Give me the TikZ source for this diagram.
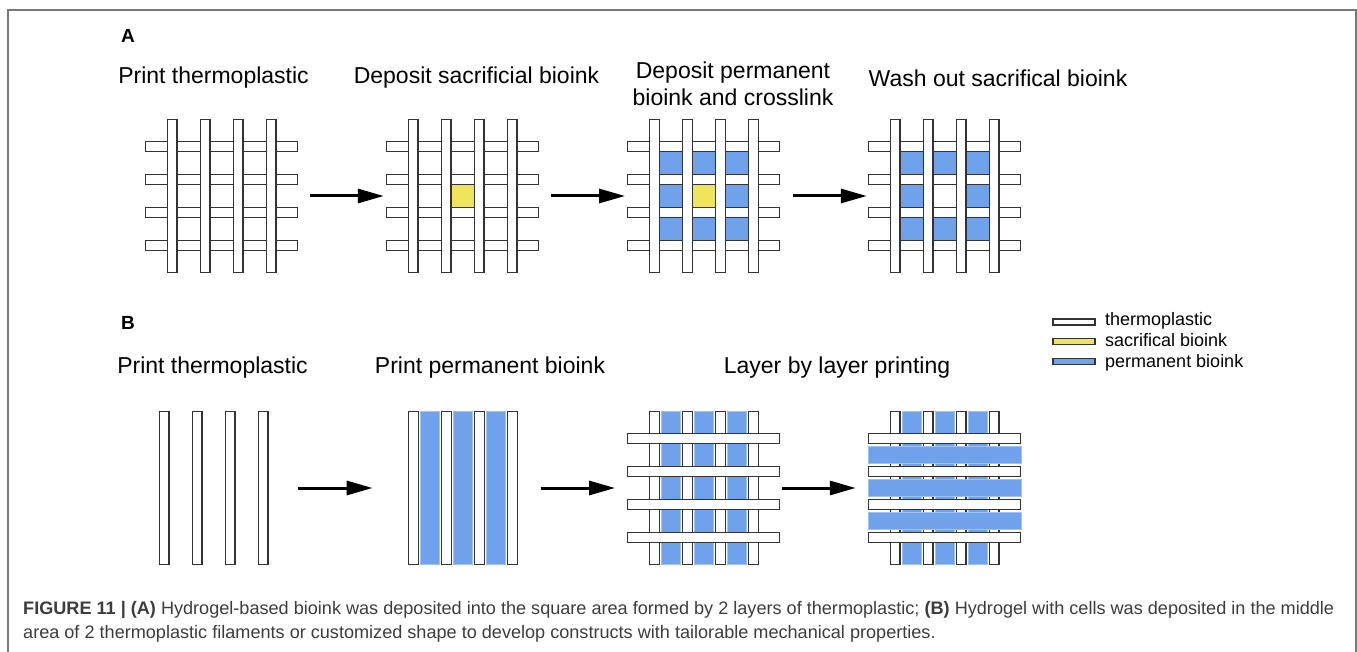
\documentclass[tikz,border=0pt]{standalone}
\usepackage{fontspec}
\setmainfont{Liberation Sans}
\newfontfamily\capfont{Liberation Sans}
\usetikzlibrary{arrows.meta}
\definecolor{permblue}{RGB}{112,162,236}
\definecolor{permedge}{RGB}{160,195,245}
\definecolor{sacyellow}{RGB}{240,228,92}
\definecolor{rimgray}{RGB}{51,51,51}
\definecolor{framegray}{RGB}{120,120,120}
\definecolor{capgray}{RGB}{60,60,60}
\tikzset{
	thermo/.style    = {draw=rimgray, fill=white, line width=1.3pt},
	permstrip/.style = {fill=permblue, draw=permedge, line width=0.8pt},
	gridbox/.style   = {minimum width=153pt, minimum height=153pt, inner sep=0pt},
	headline/.style  = {font=\fontsize{23}{27}\selectfont, align=center},
	panel/.style     = {font=\fontsize{19}{22}\selectfont\bfseries},
	legend/.style    = {font=\fontsize{18}{21}\selectfont, anchor=base west, inner sep=0pt},
	swatch/.style    = {draw=rimgray, line width=1.3pt, minimum width=42pt,
		minimum height=6pt, inner sep=0pt},
	caption/.style   = {font=\capfont\fontsize{18.1}{22}\selectfont, text=capgray,
		anchor=base west, inner sep=0pt},
	arr/.style       = {line width=3pt, -{Triangle[length=26pt,width=14pt]}}
}
% four filaments centred at (#1,#2)
\newcommand{\thermoV}[2]{\foreach \dx in {-49.5,-16.5,16.5,49.5}
	{\draw[thermo] (#1+\dx-4.85,#2-76.5) rectangle (#1+\dx+4.85,#2+76.5);}}
\newcommand{\thermoH}[2]{\foreach \dy in {-49.5,-16.5,16.5,49.5}
	{\draw[thermo] (#1-76,#2+\dy-4.85) rectangle (#1+76,#2+\dy+4.85);}}
% one pore between the filaments
\newcommand{\pore}[3]{\fill[#1] (#2-11.65,#3-11.65) rectangle (#2+11.65,#3+11.65);}
% bioink strips in the gaps
\newcommand{\stripV}[2]{\foreach \gx in {-33,0,33}
	{\draw[permstrip] (#1+\gx-9.5,#2-76.5) rectangle (#1+\gx+9.5,#2+76.5);}}
\newcommand{\stripH}[2]{\foreach \gy in {-33,0,33}
	{\draw[permstrip] (#1-76.5,#2+\gy-8.8) rectangle (#1+76.5,#2+\gy+8.8);}}

\begin{document}
\begin{tikzpicture}[x=1pt, y=-1pt]
	\useasboundingbox (0,0) rectangle (1357,652);
	\draw[framegray, line width=1.5pt] (8,652) -- (8,10) -- (1356,10) -- (1356,652);

	% panel A
	\draw
	node at (128,35.5) [panel] (pA) {A}
	node at (213.5,78) [headline] (tA1) {Print thermoplastic}
	node at (476.5,78) [headline] (tA2) {Deposit sacrificial bioink}
	node at (733,83.5) [headline] (tA3) {Deposit permanent\\bioink and crosslink}
	node at (998,78) [headline] (tA4) {Wash out sacrifical bioink}
	node at (221.5,196) [gridbox] (a1) {}
	node at (462.5,196) [gridbox] (a2) {}
	node at (703.8,196) [gridbox] (a3) {}
	node at (944.5,196) [gridbox] (a4) {};

	\pore{sacyellow}{462.5}{196}
	\foreach \gx in {-33,0,33} {\foreach \gy in {-33,0,33}
		{\pore{permblue}{703.8+\gx}{196+\gy}}}
	\pore{sacyellow}{703.8}{196}
	\foreach \gx/\gy in {-33/-33,0/-33,33/-33,-33/0,33/0,-33/33,0/33,33/33}
		{\pore{permblue}{944.5+\gx}{196+\gy}}
	\foreach \cx in {221.5,462.5,703.8,944.5} {
		\thermoH{\cx}{196}
		\thermoV{\cx}{196}
	}

	\draw[arr, shorten <=12pt, shorten >=2pt] (a1) -- (a2);
	\draw[arr, shorten <=12pt, shorten >=2pt] (a2) -- (a3);
	\draw[arr, shorten <=12pt, shorten >=1pt] (a3) -- (a4);

	% panel B
	\draw
	node at (128,323) [panel] (pB) {B}
	node at (212.5,368) [headline] (tB1) {Print thermoplastic}
	node at (490,368) [headline] (tB2) {Print permanent bioink}
	node at (837,368) [headline] (tB3) {Layer by layer printing}
	node at (213.5,488) [gridbox] (b1) {}
	node at (462.8,488) [gridbox] (b2) {}
	node at (703.8,488) [gridbox] (b3) {}
	node at (944.5,488) [gridbox] (b4) {};

	\thermoV{213.5}{488}
	\stripV{462.8}{488}
	\thermoV{462.8}{488}
	\stripV{703.8}{488}
	\thermoV{703.8}{488}
	\thermoH{703.8}{488}
	\stripV{944.5}{488}
	\thermoV{944.5}{488}
	\stripH{944.5}{488}
	\thermoH{944.5}{488}

	\draw[arr, shorten <=8pt, shorten >=13.5pt] (b1) -- (b2);
	\draw[arr, shorten <=1pt, shorten >=12pt] (b2) -- (b3);
	\draw[arr, shorten <=1pt, shorten >=12pt] (b3) -- (b4);

	% legend
	\draw
	node at (1074,322) [swatch, fill=white] (kT) {}
	node at (1074,341.5) [swatch, fill=sacyellow] (kS) {}
	node at (1074,361.5) [swatch, fill=permblue] (kP) {}
	node at (1105,325) [legend] (lT) {thermoplastic}
	node at (1105,346) [legend] (lS) {sacrifical bioink}
	node at (1105,367) [legend] (lP) {permanent bioink};

	% caption
	\node[caption] (cap1) at (23,614) {\textbf{FIGURE 11 | (A)} Hydrogel-based bioink was deposited into the square area formed by 2 layers of thermoplastic; \textbf{(B)} Hydrogel with cells was deposited in the middle};
	\node[caption] (cap2) at (23,638.5) {area of 2 thermoplastic filaments or customized shape to develop constructs with tailorable mechanical properties.};
\end{tikzpicture}
\end{document}
